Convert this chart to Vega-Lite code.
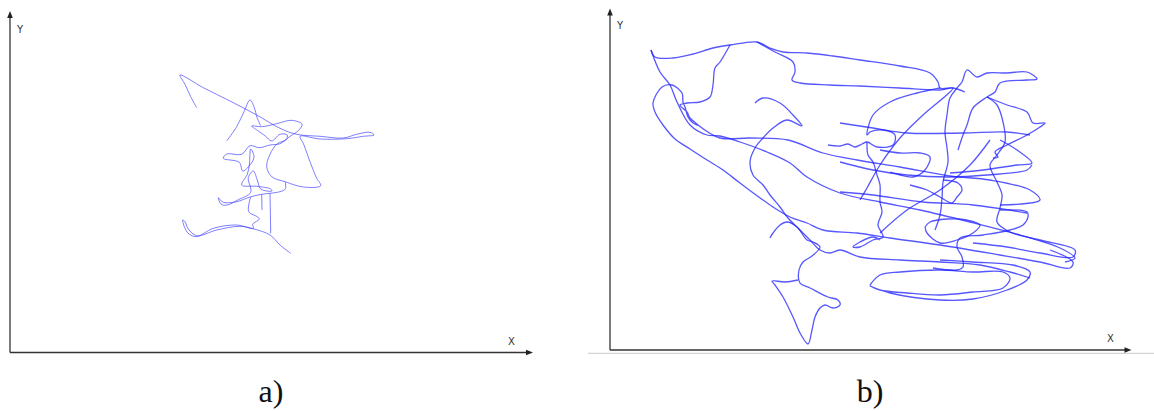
{
"$schema":"https://vega.github.io/schema/vega-lite/v6.json",
"padding":0,
"spacing":0,
"bounds":"flush",
"config":{"view":{"stroke":null},"concat":{"spacing":0}},
"datasets":{
"ta":[
{"s":1,"i":0,"x":186.7,"y":244.3},{"s":1,"i":1,"x":180.7,"y":255.3},{"s":1,"i":2,"x":175,"y":267.7},{"s":1,"i":3,"x":170,"y":277},{"s":1,"i":4,"x":193.3,"y":264.3},{"s":1,"i":5,"x":220,"y":251},{"s":1,"i":6,"x":246.7,"y":237},{"s":1,"i":7,"x":270,"y":223.7},{"s":1,"i":8,"x":286.7,"y":217.7},{"s":1,"i":9,"x":310,"y":215.7},{"s":1,"i":10,"x":333.3,"y":214},{"s":1,"i":11,"x":346.7,"y":217.7},{"s":1,"i":12,"x":360,"y":219.7},{"s":1,"i":13,"x":364,"y":217},{"s":1,"i":14,"x":353.3,"y":215.7},{"s":1,"i":15,"x":336.7,"y":213.3},{"s":1,"i":16,"x":310,"y":213},{"s":1,"i":17,"x":290,"y":215.7},{"s":1,"i":18,"x":293.3,"y":208.7},{"s":1,"i":19,"x":300,"y":190.3},{"s":1,"i":20,"x":306.7,"y":173.7},{"s":1,"i":21,"x":310.7,"y":166.3},{"s":1,"i":22,"x":293.3,"y":165},{"s":1,"i":23,"x":275,"y":170.3},{"s":1,"i":24,"x":261.7,"y":175.3},{"s":1,"i":25,"x":256.7,"y":185.3},{"s":1,"i":26,"x":260,"y":197.7},{"s":1,"i":27,"x":267.3,"y":208.3},{"s":1,"i":28,"x":276,"y":212.3},{"s":1,"i":29,"x":277.3,"y":217},{"s":1,"i":30,"x":270,"y":217.7},{"s":1,"i":31,"x":261.7,"y":211},{"s":1,"i":32,"x":255,"y":216.3},{"s":1,"i":33,"x":247.3,"y":221.7},{"s":1,"i":34,"x":241.7,"y":226},{"s":1,"i":35,"x":251.7,"y":225.3},{"s":1,"i":36,"x":266.7,"y":228.3},{"s":1,"i":37,"x":281.7,"y":231.7},{"s":1,"i":38,"x":292,"y":227.7},{"s":1,"i":39,"x":288.7,"y":221.7},{"s":1,"i":40,"x":280,"y":215.7},{"s":1,"i":41,"x":270,"y":208.3},{"s":1,"i":42,"x":260,"y":207},{"s":1,"i":43,"x":249.3,"y":204.3},{"s":1,"i":44,"x":240,"y":206.3},{"s":1,"i":45,"x":231.7,"y":197.7},{"s":1,"i":46,"x":216.7,"y":198},{"s":1,"i":47,"x":213.3,"y":193.7},{"s":1,"i":48,"x":229.3,"y":189.7},{"s":1,"i":49,"x":232.7,"y":181},{"s":1,"i":50,"x":240,"y":187},{"s":1,"i":51,"x":244,"y":195},{"s":1,"i":52,"x":240.7,"y":203},{"s":1,"i":53,"x":239.3,"y":187},{"s":1,"i":54,"x":237.3,"y":177.7},{"s":1,"i":55,"x":231.7,"y":167},{"s":1,"i":56,"x":246.7,"y":165.7},{"s":1,"i":57,"x":260.7,"y":163},{"s":1,"i":58,"x":262,"y":161},{"s":1,"i":59,"x":250.7,"y":163},{"s":1,"i":60,"x":247.3,"y":172},{"s":1,"i":61,"x":243.3,"y":181},{"s":1,"i":62,"x":238.3,"y":174.3},{"s":1,"i":63,"x":240.7,"y":159.7},{"s":1,"i":64,"x":228.3,"y":152.3},{"s":1,"i":65,"x":217.3,"y":147},{"s":1,"i":66,"x":211.3,"y":147.7},{"s":1,"i":67,"x":208.3,"y":154.3},{"s":1,"i":68,"x":213.3,"y":149.7},{"s":1,"i":69,"x":226.7,"y":150.3},{"s":1,"i":70,"x":240,"y":155},{"s":1,"i":71,"x":251.7,"y":157.7},{"s":1,"i":72,"x":260,"y":158.7},{"s":1,"i":73,"x":270,"y":160.3},{"s":1,"i":74,"x":275.3,"y":163},{"s":1,"i":75,"x":275.3,"y":169.7},
{"s":2,"i":0,"x":240.7,"y":155},{"s":2,"i":1,"x":238.7,"y":140.3},{"s":2,"i":2,"x":247.3,"y":135.3},{"s":2,"i":3,"x":249.3,"y":133},{"s":2,"i":4,"x":242.7,"y":127.7},{"s":2,"i":5,"x":243.3,"y":123.7},{"s":2,"i":6,"x":226.7,"y":127},{"s":2,"i":7,"x":203.3,"y":123.7},{"s":2,"i":8,"x":186,"y":115.3},{"s":2,"i":9,"x":177.3,"y":119.7},{"s":2,"i":10,"x":172.7,"y":132},{"s":2,"i":11,"x":175,"y":130.3},{"s":2,"i":12,"x":178.3,"y":123},{"s":2,"i":13,"x":186.7,"y":116.3},{"s":2,"i":14,"x":206.7,"y":122},{"s":2,"i":15,"x":230,"y":125.7},{"s":2,"i":16,"x":244,"y":123},{"s":2,"i":17,"x":260,"y":117},{"s":2,"i":18,"x":270,"y":107},{"s":2,"i":19,"x":280.7,"y":98.7},
{"s":3,"i":0,"x":251.7,"y":157.7},{"s":3,"i":1,"x":252,"y":142},
{"s":4,"i":0,"x":260,"y":158.7},{"s":4,"i":1,"x":260.7,"y":118.7},
{"s":5,"i":0,"x":216.7,"y":211},{"s":5,"i":1,"x":226.7,"y":225.3},{"s":5,"i":2,"x":234,"y":240.3},{"s":5,"i":3,"x":240,"y":252},{"s":5,"i":4,"x":244,"y":245.3},{"s":5,"i":5,"x":247.3,"y":233.7},{"s":5,"i":6,"x":250.7,"y":226.3}
],
"tb":[
{"s":1,"i":0,"x":41,"y":299},{"s":1,"i":1,"x":45,"y":292},{"s":1,"i":2,"x":63,"y":291},{"s":1,"i":3,"x":83,"y":295},{"s":1,"i":4,"x":103,"y":301},{"s":1,"i":5,"x":120,"y":304},{"s":1,"i":6,"x":147,"y":307},{"s":1,"i":7,"x":160,"y":301},{"s":1,"i":8,"x":173,"y":297},{"s":1,"i":9,"x":197,"y":296},{"s":1,"i":10,"x":223,"y":293},{"s":1,"i":11,"x":250,"y":289},{"s":1,"i":12,"x":290,"y":283},{"s":1,"i":13,"x":320,"y":276},{"s":1,"i":14,"x":328,"y":267},{"s":1,"i":15,"x":330,"y":261},{"s":1,"i":16,"x":343,"y":261},{"s":1,"i":17,"x":355,"y":257},
{"s":2,"i":0,"x":147,"y":307},{"s":2,"i":1,"x":165,"y":297},{"s":2,"i":2,"x":183,"y":287},{"s":2,"i":3,"x":185,"y":277},{"s":2,"i":4,"x":182,"y":269},{"s":2,"i":5,"x":190,"y":266},{"s":2,"i":6,"x":220,"y":264},{"s":2,"i":7,"x":250,"y":263},{"s":2,"i":8,"x":290,"y":261},{"s":2,"i":9,"x":330,"y":259},{"s":2,"i":10,"x":343,"y":261},{"s":2,"i":11,"x":313,"y":234},{"s":2,"i":12,"x":290,"y":211},{"s":2,"i":13,"x":270,"y":184},{"s":2,"i":14,"x":257,"y":161},{"s":2,"i":15,"x":250,"y":149},
{"s":3,"i":0,"x":120,"y":304},{"s":3,"i":1,"x":110,"y":287},{"s":3,"i":2,"x":105,"y":281},{"s":3,"i":3,"x":103,"y":264},{"s":3,"i":4,"x":100,"y":252},{"s":3,"i":5,"x":90,"y":247},{"s":3,"i":6,"x":77,"y":246},{"s":3,"i":7,"x":70,"y":244},{"s":3,"i":8,"x":77,"y":237},{"s":3,"i":9,"x":80,"y":231},{"s":3,"i":10,"x":88,"y":224},{"s":3,"i":11,"x":83,"y":226},{"s":3,"i":12,"x":78,"y":232},{"s":3,"i":13,"x":75,"y":242},{"s":3,"i":14,"x":73,"y":247},{"s":3,"i":15,"x":72,"y":256},{"s":3,"i":16,"x":62,"y":264},{"s":3,"i":17,"x":52,"y":262},{"s":3,"i":18,"x":43,"y":246},{"s":3,"i":19,"x":45,"y":237},{"s":3,"i":20,"x":53,"y":224},{"s":3,"i":21,"x":65,"y":210},{"s":3,"i":22,"x":80,"y":200},{"s":3,"i":23,"x":97,"y":189},{"s":3,"i":24,"x":113,"y":179},{"s":3,"i":25,"x":130,"y":166},{"s":3,"i":26,"x":163,"y":142},{"s":3,"i":27,"x":180,"y":132},{"s":3,"i":28,"x":197,"y":126},{"s":3,"i":29,"x":213,"y":119},{"s":3,"i":30,"x":247,"y":116},{"s":3,"i":31,"x":280,"y":111},{"s":3,"i":32,"x":330,"y":104},{"s":3,"i":33,"x":390,"y":94},{"s":3,"i":34,"x":430,"y":87},{"s":3,"i":35,"x":460,"y":81},{"s":3,"i":36,"x":463,"y":87},{"s":3,"i":37,"x":440,"y":99},
{"s":4,"i":0,"x":41,"y":299},{"s":4,"i":1,"x":50,"y":277},{"s":4,"i":2,"x":60,"y":264},{"s":4,"i":3,"x":67,"y":247},{"s":4,"i":4,"x":80,"y":224},{"s":4,"i":5,"x":97,"y":214},{"s":4,"i":6,"x":110,"y":213},{"s":4,"i":7,"x":130,"y":207},{"s":4,"i":8,"x":157,"y":197},{"s":4,"i":9,"x":180,"y":186},{"s":4,"i":10,"x":197,"y":172},{"s":4,"i":11,"x":230,"y":156},{"s":4,"i":12,"x":270,"y":147},{"s":4,"i":13,"x":310,"y":139},{"s":4,"i":14,"x":360,"y":127},{"s":4,"i":15,"x":410,"y":114},{"s":4,"i":16,"x":450,"y":101},{"s":4,"i":17,"x":465,"y":91},{"s":4,"i":18,"x":455,"y":87},
{"s":5,"i":0,"x":88,"y":224},{"s":5,"i":1,"x":110,"y":211},{"s":5,"i":2,"x":140,"y":211},{"s":5,"i":3,"x":178,"y":209},{"s":5,"i":4,"x":213,"y":196},{"s":5,"i":5,"x":247,"y":189},{"s":5,"i":6,"x":290,"y":182},{"s":5,"i":7,"x":340,"y":173},{"s":5,"i":8,"x":380,"y":169},{"s":5,"i":9,"x":420,"y":159},{"s":5,"i":10,"x":430,"y":149},{"s":5,"i":11,"x":390,"y":144},
{"s":6,"i":0,"x":145,"y":246},{"s":6,"i":1,"x":153,"y":251},{"s":6,"i":2,"x":170,"y":246},{"s":6,"i":3,"x":183,"y":234},{"s":6,"i":4,"x":192,"y":223},{"s":6,"i":5,"x":177,"y":229},{"s":6,"i":6,"x":163,"y":221},{"s":6,"i":7,"x":153,"y":211},{"s":6,"i":8,"x":145,"y":201},{"s":6,"i":9,"x":140,"y":187},{"s":6,"i":10,"x":143,"y":174},{"s":6,"i":11,"x":153,"y":164},{"s":6,"i":12,"x":160,"y":154},{"s":6,"i":13,"x":170,"y":142},{"s":6,"i":14,"x":178,"y":131},{"s":6,"i":15,"x":190,"y":119},{"s":6,"i":16,"x":200,"y":109},{"s":6,"i":17,"x":210,"y":99},{"s":6,"i":18,"x":220,"y":96},{"s":6,"i":19,"x":230,"y":99},{"s":6,"i":20,"x":250,"y":92},{"s":6,"i":21,"x":290,"y":89},{"s":6,"i":22,"x":330,"y":87},{"s":6,"i":23,"x":370,"y":84},{"s":6,"i":24,"x":400,"y":77},{"s":6,"i":25,"x":420,"y":71},
{"s":7,"i":0,"x":160,"y":111},{"s":7,"i":1,"x":163,"y":116},{"s":7,"i":2,"x":170,"y":124},{"s":7,"i":3,"x":177,"y":127},{"s":7,"i":4,"x":187,"y":122},{"s":7,"i":5,"x":197,"y":109},{"s":7,"i":6,"x":203,"y":107},{"s":7,"i":7,"x":210,"y":102},{"s":7,"i":8,"x":202,"y":93},{"s":7,"i":9,"x":193,"y":87},{"s":7,"i":10,"x":189,"y":79},{"s":7,"i":11,"x":190,"y":66},{"s":7,"i":12,"x":200,"y":61},{"s":7,"i":13,"x":218,"y":52},{"s":7,"i":14,"x":228,"y":49},{"s":7,"i":15,"x":230,"y":44},{"s":7,"i":16,"x":223,"y":41},{"s":7,"i":17,"x":215,"y":44},{"s":7,"i":18,"x":210,"y":41},{"s":7,"i":19,"x":205,"y":32},{"s":7,"i":20,"x":202,"y":19},{"s":7,"i":21,"x":198,"y":5},{"s":7,"i":22,"x":190,"y":16},{"s":7,"i":23,"x":183,"y":32},{"s":7,"i":24,"x":173,"y":52},{"s":7,"i":25,"x":165,"y":64},{"s":7,"i":26,"x":162,"y":68},{"s":7,"i":27,"x":175,"y":67},{"s":7,"i":28,"x":188,"y":69},
{"s":8,"i":0,"x":260,"y":64},{"s":8,"i":1,"x":270,"y":74},{"s":8,"i":2,"x":290,"y":77},{"s":8,"i":3,"x":330,"y":79},{"s":8,"i":4,"x":363,"y":77},{"s":8,"i":5,"x":393,"y":77},{"s":8,"i":6,"x":400,"y":71},{"s":8,"i":7,"x":393,"y":61},{"s":8,"i":8,"x":363,"y":57},{"s":8,"i":9,"x":330,"y":54},{"s":8,"i":10,"x":297,"y":56},{"s":8,"i":11,"x":270,"y":59},{"s":8,"i":12,"x":260,"y":63},{"s":8,"i":13,"x":280,"y":56},{"s":8,"i":14,"x":330,"y":49},{"s":8,"i":15,"x":363,"y":50},{"s":8,"i":16,"x":397,"y":59},{"s":8,"i":17,"x":417,"y":69},{"s":8,"i":18,"x":420,"y":77},{"s":8,"i":19,"x":403,"y":84},{"s":8,"i":20,"x":363,"y":87},{"s":8,"i":21,"x":330,"y":89},
{"s":9,"i":0,"x":363,"y":106},{"s":9,"i":1,"x":397,"y":102},{"s":9,"i":2,"x":430,"y":96},{"s":9,"i":3,"x":463,"y":92},{"s":9,"i":4,"x":465,"y":99},{"s":9,"i":5,"x":430,"y":109},{"s":9,"i":6,"x":400,"y":117},{"s":9,"i":7,"x":387,"y":127},{"s":9,"i":8,"x":390,"y":141},{"s":9,"i":9,"x":392,"y":154},{"s":9,"i":10,"x":387,"y":167},{"s":9,"i":11,"x":380,"y":184},{"s":9,"i":12,"x":387,"y":194},{"s":9,"i":13,"x":395,"y":207},{"s":9,"i":14,"x":393,"y":227},{"s":9,"i":15,"x":387,"y":244},{"s":9,"i":16,"x":377,"y":252},
{"s":10,"i":0,"x":348,"y":199},{"s":10,"i":1,"x":353,"y":214},{"s":10,"i":2,"x":357,"y":224},{"s":10,"i":3,"x":363,"y":241},{"s":10,"i":4,"x":377,"y":252},{"s":10,"i":5,"x":385,"y":257},{"s":10,"i":6,"x":390,"y":266},{"s":10,"i":7,"x":417,"y":269},{"s":10,"i":8,"x":427,"y":270},{"s":10,"i":9,"x":417,"y":277},{"s":10,"i":10,"x":397,"y":276},{"s":10,"i":11,"x":377,"y":276},{"s":10,"i":12,"x":367,"y":272},{"s":10,"i":13,"x":357,"y":279},{"s":10,"i":14,"x":352,"y":267},{"s":10,"i":15,"x":347,"y":261},{"s":10,"i":16,"x":340,"y":251},{"s":10,"i":17,"x":337,"y":234},{"s":10,"i":18,"x":335,"y":217},{"s":10,"i":19,"x":337,"y":201},{"s":10,"i":20,"x":338,"y":187},{"s":10,"i":21,"x":333,"y":167},{"s":10,"i":22,"x":332,"y":151},{"s":10,"i":23,"x":330,"y":134},{"s":10,"i":24,"x":325,"y":119},
{"s":11,"i":0,"x":377,"y":252},{"s":11,"i":1,"x":397,"y":244},{"s":11,"i":2,"x":417,"y":237},{"s":11,"i":3,"x":423,"y":226},{"s":11,"i":4,"x":435,"y":226},{"s":11,"i":5,"x":430,"y":222},{"s":11,"i":6,"x":417,"y":214},{"s":11,"i":7,"x":397,"y":204},{"s":11,"i":8,"x":385,"y":197},{"s":11,"i":9,"x":388,"y":192},{"s":11,"i":10,"x":383,"y":191},
{"s":12,"i":0,"x":390,"y":209},{"s":12,"i":1,"x":407,"y":199},{"s":12,"i":2,"x":422,"y":186},{"s":12,"i":3,"x":407,"y":184},{"s":12,"i":4,"x":373,"y":179},{"s":12,"i":5,"x":340,"y":176},
{"s":13,"i":0,"x":230,"y":226},{"s":13,"i":1,"x":263,"y":221},{"s":13,"i":2,"x":297,"y":216},{"s":13,"i":3,"x":353,"y":216},{"s":13,"i":4,"x":397,"y":217},{"s":13,"i":5,"x":420,"y":214},
{"s":14,"i":0,"x":218,"y":204},{"s":14,"i":1,"x":230,"y":203},{"s":14,"i":2,"x":238,"y":205},{"s":14,"i":3,"x":245,"y":202},{"s":14,"i":4,"x":252,"y":205},{"s":14,"i":5,"x":257,"y":207},{"s":14,"i":6,"x":267,"y":202},{"s":14,"i":7,"x":283,"y":204},{"s":14,"i":8,"x":285,"y":214},{"s":14,"i":9,"x":273,"y":219},{"s":14,"i":10,"x":260,"y":217},{"s":14,"i":11,"x":257,"y":214},{"s":14,"i":12,"x":263,"y":234},{"s":14,"i":13,"x":280,"y":247},{"s":14,"i":14,"x":307,"y":256},{"s":14,"i":15,"x":330,"y":261},
{"s":15,"i":0,"x":257,"y":207},{"s":15,"i":1,"x":258,"y":194},{"s":15,"i":2,"x":263,"y":187},{"s":15,"i":3,"x":267,"y":174},{"s":15,"i":4,"x":270,"y":164},{"s":15,"i":5,"x":270,"y":147},{"s":15,"i":6,"x":272,"y":137},{"s":15,"i":7,"x":268,"y":124},{"s":15,"i":8,"x":273,"y":112},{"s":15,"i":9,"x":263,"y":109},{"s":15,"i":10,"x":250,"y":102},{"s":15,"i":11,"x":243,"y":102},{"s":15,"i":12,"x":250,"y":107},{"s":15,"i":13,"x":263,"y":112},{"s":15,"i":14,"x":270,"y":109},
{"s":16,"i":0,"x":230,"y":187},{"s":16,"i":1,"x":263,"y":179},{"s":16,"i":2,"x":297,"y":174},{"s":16,"i":3,"x":340,"y":172},{"s":16,"i":4,"x":377,"y":174},{"s":16,"i":5,"x":417,"y":179},{"s":16,"i":6,"x":422,"y":184},
{"s":17,"i":0,"x":230,"y":157},{"s":17,"i":1,"x":263,"y":154},{"s":17,"i":2,"x":313,"y":147},{"s":17,"i":3,"x":363,"y":144},{"s":17,"i":4,"x":417,"y":136},
{"s":18,"i":0,"x":270,"y":199},{"s":18,"i":1,"x":290,"y":196},{"s":18,"i":2,"x":310,"y":196},{"s":18,"i":3,"x":320,"y":192},{"s":18,"i":4,"x":315,"y":179},{"s":18,"i":5,"x":303,"y":172},{"s":18,"i":6,"x":290,"y":174},{"s":18,"i":7,"x":280,"y":177},
{"s":19,"i":0,"x":333,"y":169},{"s":19,"i":1,"x":348,"y":166},{"s":19,"i":2,"x":352,"y":159},{"s":19,"i":3,"x":347,"y":152},{"s":19,"i":4,"x":342,"y":146},{"s":19,"i":5,"x":330,"y":152},{"s":19,"i":6,"x":317,"y":159},{"s":19,"i":7,"x":300,"y":164},
{"s":20,"i":0,"x":315,"y":122},{"s":20,"i":1,"x":320,"y":127},{"s":20,"i":2,"x":337,"y":130},{"s":20,"i":3,"x":357,"y":129},{"s":20,"i":4,"x":370,"y":124},{"s":20,"i":5,"x":363,"y":116},{"s":20,"i":6,"x":347,"y":109},{"s":20,"i":7,"x":330,"y":106},{"s":20,"i":8,"x":317,"y":116},{"s":20,"i":9,"x":315,"y":122},
{"s":21,"i":0,"x":390,"y":139},{"s":21,"i":1,"x":417,"y":137},{"s":21,"i":2,"x":418,"y":132},{"s":21,"i":3,"x":413,"y":124},{"s":21,"i":4,"x":400,"y":119},{"s":21,"i":5,"x":373,"y":114},{"s":21,"i":6,"x":350,"y":111},{"s":21,"i":7,"x":347,"y":102},{"s":21,"i":8,"x":352,"y":92},{"s":21,"i":9,"x":353,"y":82},{"s":21,"i":10,"x":347,"y":79},{"s":21,"i":11,"x":323,"y":81},
{"s":22,"i":0,"x":270,"y":116},{"s":22,"i":1,"x":297,"y":139},{"s":22,"i":2,"x":330,"y":159},{"s":22,"i":3,"x":360,"y":184},{"s":22,"i":4,"x":380,"y":209}
],
"axa":[{"x":0,"y":-0.5,"x2":0,"y2":338},{"x":0,"y":-0.5,"x2":519,"y2":-0.5}],
"upa":[{"x":0,"y":337.5}],
"rta":[{"x":519.5,"y":-0.5}],
"lba":[{"x":10,"y":322,"t":"Y"},{"x":501.5,"y":10.5,"t":"X"}],
"capa":[{"x":261,"y":-50,"t":"a)"}],
"axb":[{"x":0,"y":-1,"x2":0,"y2":337},{"x":0,"y":-1,"x2":518,"y2":-1}],
"upb":[{"x":0,"y":337}],
"rtb":[{"x":518,"y":-1}],
"grb":[{"x":-22,"y":-4.3,"x2":544,"y2":-4.3}],
"lbb":[{"x":10,"y":323.5,"t":"Y"},{"x":500.5,"y":10.5,"t":"X"}],
"capb":[{"x":260,"y":-53,"t":"b)"}]
},
"hconcat":[
{"width":590,"height":411,
"encoding":{"x":{"field":"x","type":"quantitative","scale":{"domain":[-10,580],"nice":false,"zero":false},"axis":null},
"y":{"field":"y","type":"quantitative","scale":{"domain":[-59,352],"nice":false,"zero":false},"axis":null}},
"layer":[
{"data":{"name":"ta"},"mark":{"type":"line","color":"#3a3aff","strokeWidth":1,"opacity":0.65,"interpolate":"catmull-rom"},"encoding":{"detail":{"field":"s","type":"nominal"},"order":{"field":"i","type":"quantitative"}}},
{"data":{"name":"axa"},"mark":{"type":"rule","color":"#333333","strokeWidth":1.3},"encoding":{"x2":{"field":"x2"},"y2":{"field":"y2"}}},
{"data":{"name":"upa"},"mark":{"type":"point","shape":"M0,-1L0.8,1L-0.8,1Z","filled":true,"color":"#222222","size":49,"opacity":1},"encoding":{}},
{"data":{"name":"rta"},"mark":{"type":"point","shape":"M1,0L-1,0.8L-1,-0.8Z","filled":true,"color":"#222222","size":49,"opacity":1},"encoding":{}},
{"data":{"name":"lba"},"mark":{"type":"text","font":"DejaVu Sans","fontSize":10,"color":"#333333","align":"center","baseline":"middle"},"encoding":{"text":{"field":"t"}}},
{"data":{"name":"capa"},"mark":{"type":"text","font":"Liberation Serif","fontSize":32,"color":"#111111","align":"center","baseline":"alphabetic"},"encoding":{"text":{"field":"t"}}}
]},
{"width":564,"height":411,
"encoding":{"x":{"field":"x","type":"quantitative","scale":{"domain":[-20,544],"nice":false,"zero":false},"axis":null},
"y":{"field":"y","type":"quantitative","scale":{"domain":[-62,349],"nice":false,"zero":false},"axis":null}},
"layer":[
{"data":{"name":"grb"},"mark":{"type":"rule","color":"#c8c8c8","strokeWidth":1},"encoding":{"x2":{"field":"x2"},"y2":{"field":"y2"}}},
{"data":{"name":"tb"},"mark":{"type":"line","color":"#1f1fff","strokeWidth":1.3,"opacity":0.75,"interpolate":"catmull-rom"},"encoding":{"detail":{"field":"s","type":"nominal"},"order":{"field":"i","type":"quantitative"}}},
{"data":{"name":"axb"},"mark":{"type":"rule","color":"#333333","strokeWidth":1.3},"encoding":{"x2":{"field":"x2"},"y2":{"field":"y2"}}},
{"data":{"name":"upb"},"mark":{"type":"point","shape":"M0,-1L0.8,1L-0.8,1Z","filled":true,"color":"#222222","size":49,"opacity":1},"encoding":{}},
{"data":{"name":"rtb"},"mark":{"type":"point","shape":"M1,0L-1,0.8L-1,-0.8Z","filled":true,"color":"#222222","size":49,"opacity":1},"encoding":{}},
{"data":{"name":"lbb"},"mark":{"type":"text","font":"DejaVu Sans","fontSize":10,"color":"#333333","align":"center","baseline":"middle"},"encoding":{"text":{"field":"t"}}},
{"data":{"name":"capb"},"mark":{"type":"text","font":"Liberation Serif","fontSize":32,"color":"#111111","align":"center","baseline":"alphabetic"},"encoding":{"text":{"field":"t"}}}
]}
]
}
